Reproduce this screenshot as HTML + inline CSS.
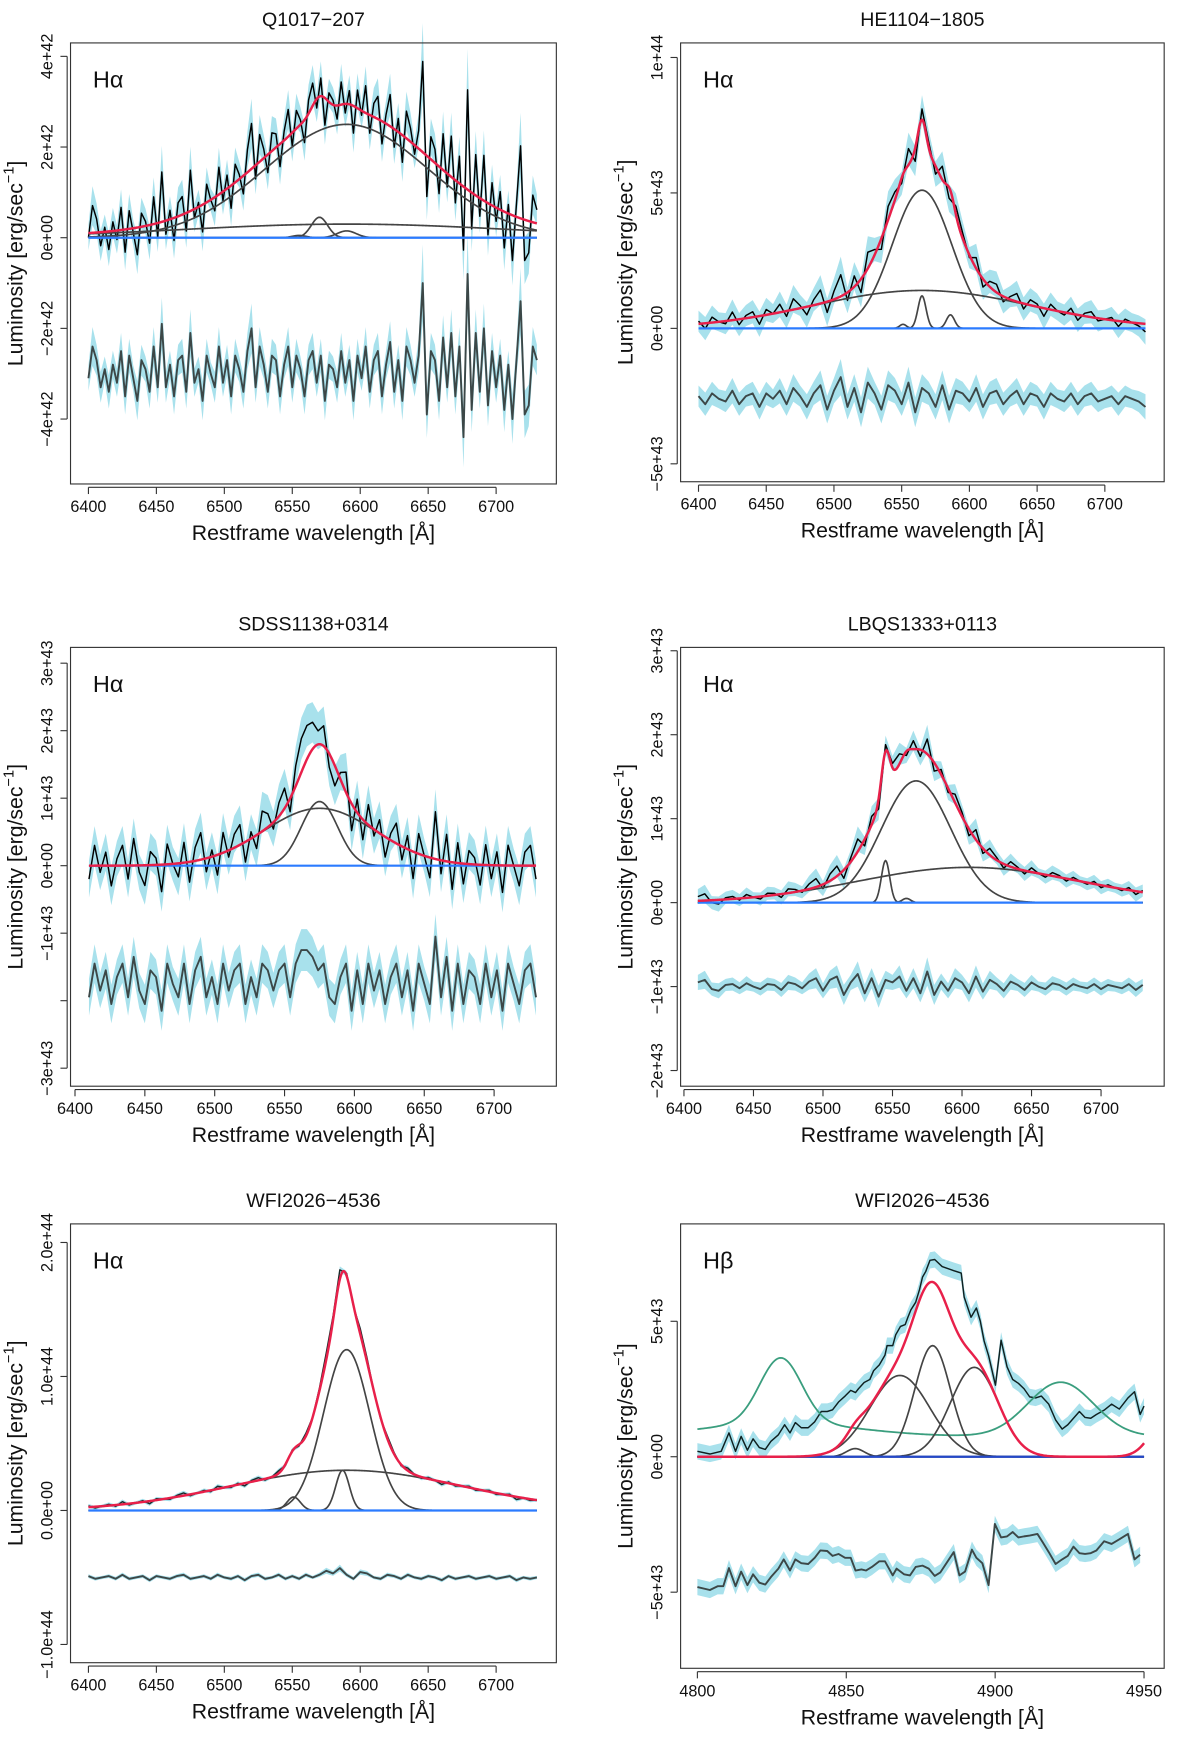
<!DOCTYPE html>
<html><head><meta charset="utf-8">
<style>
html,body{margin:0;padding:0;background:#fff;}
svg{display:block;font-family:"Liberation Sans",Arial,sans-serif;}
</style></head>
<body>
<svg id="fig" width="1200" height="1756" viewBox="0 0 1072 1568" xmlns="http://www.w3.org/2000/svg"></svg>
<script>
// ---------- Panel 1: Q1017-207 (units 1e42) ----------
const p1Resid=[-0.1,0.6,0.3,-0.3,0.1,-0.4,0.2,-0.2,0.5,-0.5,0.4,-0.1,-0.6,0.3,0.1,-0.4,0.6,-0.3,1.1,-0.3,0.2,-0.5,0.3,0.4,-0.4,0.9,-0.2,0.1,-0.6,0.4,0.0,-0.3,0.6,-0.2,0.3,-0.5,0.4,0.1,-0.4,0.5,1.0,-0.3,0.6,0.2,-0.4,0.4,0.3,-0.5,0.2,0.6,-0.3,0.4,0.1,-0.5,0.3,0.5,-0.2,0.4,-0.6,0.2,0.1,-0.3,0.5,-0.2,0.3,-0.6,0.4,-0.1,0.6,-0.4,0.3,0.5,-0.5,0.2,0.7,-0.4,0.3,-0.6,0.6,0.3,-0.2,0.4,2.0,-0.9,0.5,0.3,-0.6,0.8,-0.3,0.9,-0.5,0.6,-1.4,2.2,-0.8,0.9,-0.4,1.0,-0.7,0.5,-0.3,0.4,-0.8,0.2,-1.0,0.3,1.6,-0.9,-0.7,0.6,0.3];
const p1Amp=[2.5,0.3,0.45,0.15,0.05];
const p1Cen=[6590,6590,6570,6590,6555];
const p1Sig=[60,120,6,7,5];
const p1XTicks=[6400,6450,6500,6550,6600,6650,6700];
const p1YTicks=[4,2,0,-2,-4];
const p1YLabels=["4e+42","2e+42","0e+00","\u22122e+42","\u22124e+42"];
// ---------- Panel 2: HE1104-1805 (units 1e43) ----------
const p2Resid=[0.1,-0.2,0.2,0.0,-0.1,0.3,-0.2,0.1,0.2,-0.3,0.2,0.0,0.3,-0.2,0.4,0.1,-0.3,0.2,0.5,-0.4,0.3,0.8,-0.3,0.4,-0.5,0.6,0.2,-0.4,0.5,0.3,-0.2,0.6,-0.5,0.4,0.2,-0.3,0.5,-0.4,0.3,0.2,-0.1,0.4,-0.3,0.2,0.3,-0.2,0.1,0.3,-0.2,0.2,0.1,-0.3,0.2,0.0,-0.1,0.2,-0.2,0.1,0.2,-0.1,0.0,0.1,-0.2,0.1,0.0,-0.1,-0.3];
const p2Amp=[5.1,1.4,1.2,0.5,0.15];
const p2Cen=[6565,6565,6565,6586,6551];
const p2Sig=[22,80,3,3,2.5];
const p2XTicks=[6400,6450,6500,6550,6600,6650,6700];
const p2YTicks=[10,5,0,-5];
const p2YLabels=["1e+44","5e+43","0e+00","\u22125e+43"];
// ---------- Panel 3: SDSS1138+0314 (units 1e43) ----------
const p3Resid=[-0.2,0.3,-0.1,0.2,-0.3,0.1,0.3,-0.2,0.4,-0.1,-0.3,0.2,0.1,-0.4,0.3,0.0,-0.2,0.3,-0.3,0.2,0.4,-0.2,0.1,-0.3,0.3,-0.1,0.2,0.3,-0.3,0.1,-0.2,0.3,0.2,-0.1,0.2,0.3,-0.2,0.3,0.5,0.5,0.4,0.2,0.3,-0.2,-0.3,0.1,0.3,-0.4,0.2,-0.3,0.3,-0.1,0.2,-0.3,0.1,0.3,-0.2,0.2,-0.4,0.3,0.0,-0.3,0.7,-0.2,0.4,-0.4,0.3,-0.3,0.2,0.1,-0.3,0.3,-0.2,0.2,-0.4,0.3,0.0,-0.3,0.2,0.3,-0.2];
const p3Amp=[0.95,0.85];
const p3Cen=[6575,6575];
const p3Sig=[13,40];
const p3XTicks=[6400,6450,6500,6550,6600,6650,6700];
const p3YTicks=[3,2,1,0,-1,-2,-3];
const p3YLabels=["3e+43","2e+43","1e+43","0e+00","\u22121e+43","","\u22123e+43"];
// ---------- Panel 4: LBQS1333+0113 (units 1e43) ----------
const p4Resid=[0.05,0.08,-0.03,-0.05,0.02,0.03,-0.02,0.04,0.0,-0.03,0.03,0.02,-0.04,0.05,0.03,-0.02,0.06,0.1,-0.05,0.08,0.12,-0.1,0.05,0.15,-0.08,0.1,-0.12,0.08,0.05,0.12,-0.05,0.1,-0.08,0.18,-0.1,0.06,-0.05,0.1,0.05,-0.08,0.12,-0.06,0.08,0.03,-0.05,0.06,0.02,-0.04,0.05,0.0,-0.03,0.04,0.02,-0.03,0.03,0.0,-0.02,0.03,-0.03,0.02,0.0,-0.02,0.03,-0.04,0.02];
const p4Amp=[1.45,0.42,0.5,0.05];
const p4Cen=[6567,6605,6545,6560];
const p4Sig=[25,80,3,3];
const p4XTicks=[6400,6450,6500,6550,6600,6650,6700];
const p4YTicks=[3,2,1,0,-1,-2];
const p4YLabels=["3e+43","2e+43","1e+43","0e+00","\u22121e+43","\u22122e+43"];
// ---------- Panel 5: WFI2026-4536 Halpha (units 1e44) ----------
const p5Resid=[0.01,-0.01,0.0,0.01,-0.01,0.02,-0.01,0.0,0.01,-0.02,0.01,0.0,-0.01,0.01,0.02,-0.01,0.0,0.01,-0.01,0.02,0.0,-0.01,0.01,-0.02,0.01,0.02,-0.01,0.0,0.02,-0.01,0.01,-0.01,0.02,0.0,0.02,0.05,0.03,0.07,0.02,-0.01,0.04,0.03,0.0,-0.01,0.02,0.01,-0.01,0.02,0.0,-0.01,0.01,0.0,-0.02,0.01,-0.01,0.0,0.01,-0.01,0.0,0.01,-0.01,0.0,0.01,-0.02,0.0,-0.01,0.0];
const p5Amp=[1.2,0.3,0.3,0.1];
const p5Cen=[6590,6590,6587,6551];
const p5Sig=[17,85,5,5];
const p5XTicks=[6400,6450,6500,6550,6600,6650,6700];
const p5YTicks=[2,1,0,-1];
const p5YLabels=["2.0e+44","1.0e+44","0.0e+00","\u22121.0e+44"];
// ---------- Panel 6: WFI2026-4536 Hbeta (units 1e43) ----------
const p6Wl=[4800,4804.2,4808,4810.6,4812.8,4814.7,4816.8,4818.7,4820.8,4822.8,4824.7,4827.2,4829.3,4831.1,4832.9,4834.9,4837.2,4839.4,4841.6,4843.6,4845.4,4847.4,4849.6,4851.5,4853.1,4854.1,4856,4857.9,4859.2,4861.1,4863,4863.7,4865.6,4866.6,4868.2,4869.8,4870.7,4871.7,4873.3,4874.6,4875.6,4876.7,4878.1,4879.7,4882.2,4886.1,4888.6,4889.6,4891.9,4893.7,4895,4896.3,4897.8,4900.1,4902,4904,4905.9,4907.8,4909.7,4911.6,4913.6,4915.5,4918,4920.3,4922.5,4924.4,4926.3,4928.3,4930.2,4932.1,4934,4936.6,4939.1,4941.7,4944.6,4946.8,4948.7,4950];
const p6Obs=[0.2,0.1,0.2,0.88,0.2,0.75,0.24,0.66,0.34,0.27,0.57,0.81,1.18,0.88,1.26,1.07,1.07,1.29,1.67,1.67,1.73,2.02,2.24,2.45,2.37,2.51,2.74,2.85,3.18,3.39,3.75,4.1,4.1,4.5,4.81,4.88,5.15,5.42,5.7,6.17,6.63,6.84,7.25,7.28,7.02,6.87,6.78,5.89,5.15,5.49,5.01,4.27,3.73,2.64,4.3,3.32,2.85,2.71,2.51,2.21,2.17,2.24,1.94,1.36,1.02,1.18,1.42,1.67,1.45,1.42,1.56,1.72,1.94,1.76,2.17,2.4,1.56,1.87];
const p6ResWl=[4800,4804.2,4806.8,4808.7,4810.6,4812.8,4814.7,4816.8,4818.7,4820.8,4822.8,4824.7,4827.2,4829,4831.1,4832.9,4834.9,4837.2,4839.4,4841.3,4843.6,4845.4,4847.4,4849.6,4851.5,4853.1,4855.1,4856.6,4858.6,4861.1,4863,4865.6,4866.9,4869.4,4871.4,4873.3,4875.6,4877.7,4879.7,4881.6,4886.1,4888,4889.9,4892.2,4893.7,4895.7,4897.8,4899.9,4902,4904,4905.9,4907.8,4909.7,4911.6,4914.2,4916.1,4918,4920.3,4922.5,4924.4,4926.3,4928.3,4930.2,4932.1,4934,4936.6,4939.1,4941.7,4944.6,4946.8,4948.7];
const p6Res=[-4.81,-4.92,-4.78,-4.78,-4.11,-4.78,-4.24,-4.74,-4.34,-4.65,-4.72,-4.44,-4.13,-3.79,-4.2,-3.79,-3.93,-3.96,-3.73,-3.46,-3.48,-3.66,-3.59,-3.73,-3.73,-4.2,-4.16,-4.2,-4.07,-3.86,-3.86,-4.38,-4.13,-4.34,-4.38,-4.07,-4.02,-4.13,-4.4,-4.27,-3.52,-4.38,-4.24,-3.43,-3.73,-3.93,-4.74,-2.48,-2.98,-2.94,-2.78,-2.98,-2.94,-2.91,-2.85,-3.18,-3.52,-3.96,-3.79,-3.66,-3.32,-3.56,-3.59,-3.56,-3.46,-3.12,-3.22,-3.05,-2.85,-3.79,-3.62];
const p6Amp=[3.0,4.1,3.3,0.3,2.0];
const p6Cen=[4868,4879,4893,4853,4960];
const p6Sig=[10,6,8,3,6];
const p6FeAmp=[2.4,2.0,0.5];
const p6FeCen=[4828,4922,4828];
const p6FeSig=[7,11,25];
const p6FeBase=0.75;
const p6XTicks=[4800,4850,4900,4950];
const p6YTicks=[5,0,-5];
const p6YLabels=["5e+43","0e+00","\u22125e+43"];

const NS="http://www.w3.org/2000/svg";
const svg=document.getElementById('fig');
function mk(tag,attrs,parent){const e=document.createElementNS(NS,tag);for(const k in attrs)e.setAttribute(k,attrs[k]);(parent||svg).appendChild(e);return e;}
function gsum(l,A,C,S){let s=0;for(let i=0;i<A.length;i++)s+=A[i]*Math.exp(-Math.pow(l-C[i],2)/(2*S[i]*S[i]));return s;}
function gone(l,a,c,s){return a*Math.exp(-Math.pow(l-c,2)/(2*s*s));}
function pathD(pts){return pts.map((p,i)=>(i?'L':'M')+p[0].toFixed(2)+' '+p[1].toFixed(2)).join(' ');}

function drawPanel(cfg){
  const g=mk('g',{});
  
  
  const X=l=>cfg.x0+(l-cfg.l0)*cfg.sx;
  const Y=v=>cfg.y0-v*cfg.sy;
  const t=mk('text',{x:(cfg.bx0+cfg.bx1)/2,y:cfg.by0-15,'text-anchor':'middle','font-size':17.5,fill:'#111'},g);
  t.textContent=cfg.title;
  
  
  const h=mk('text',{x:cfg.bx0+20,y:cfg.by0+40,'font-size':21,fill:'#111'},g);
  h.textContent=cfg.line;
  
  
  const wl=cfg.wl, obs=cfg.obs;
  let up=[],dn=[];
  for(let i=0;i<wl.length;i++){up.push([X(wl[i]),Y(obs[i]+cfg.err(i))]);dn.push([X(wl[i]),Y(obs[i]-cfg.err(i))]);}
  const band=mk('path',{d:pathD(up.concat(dn.reverse()))+'Z',fill:'#a8e1ec',stroke:'none'},g);
  
  
  let ru=[],rd=[];
  for(let i=0;i<cfg.rwl.length;i++){ru.push([X(cfg.rwl[i]),Y(cfg.res[i]+cfg.rerr(i))]);rd.push([X(cfg.rwl[i]),Y(cfg.res[i]-cfg.rerr(i))]);}
  const rb=mk('path',{d:pathD(ru.concat(rd.reverse()))+'Z',fill:'#a8e1ec',stroke:'none'},g);
  
  
  const ol=mk('path',{d:pathD(wl.map((l,i)=>[X(l),Y(obs[i])])),fill:'none',stroke:cfg.obsColor||'#000','stroke-width':1.3,'stroke-linejoin':'round'},g);
  
  
  const fine=[];for(let l=cfg.lmin;l<=cfg.lmax+0.01;l+=0.5)fine.push(l);
  if(cfg.fe){
    const fe=mk('path',{d:pathD(fine.map(l=>[X(l),Y(cfg.fe(l))])),fill:'none',stroke:'#3a9e7e','stroke-width':1.6},g);
    
    
  }
  for(let k=0;k<cfg.A.length;k++){
    const c=mk('path',{d:pathD(fine.map(l=>[X(l),Y(gone(l,cfg.A[k],cfg.C[k],cfg.S[k]))])),fill:'none',stroke:'#444','stroke-width':1.5},g);
    
    
  }
  const bl=mk('line',{x1:X(cfg.lmin),x2:X(cfg.lmax),y1:Y(0),y2:Y(0),stroke:cfg.blue||'#2b7bff','stroke-width':2},g);
  
  
  const rm=mk('path',{d:pathD(fine.map(l=>[X(l),Y(gsum(l,cfg.A,cfg.C,cfg.S))])),fill:'none',stroke:'#e8204a','stroke-width':2.2},g);
  
  
  const rl=mk('path',{d:pathD(cfg.rwl.map((l,i)=>[X(l),Y(cfg.res[i])])),fill:'none',stroke:'#3c4747','stroke-width':1.7,'stroke-linejoin':'round'},g);
  
  
  const bx=mk('rect',{x:cfg.bx0,y:cfg.by0,width:cfg.bx1-cfg.bx0,height:cfg.by1-cfg.by0,fill:'none',stroke:'#333','stroke-width':1},g);
  
  
  const xa=mk('g',{},g);
  
  
  const xt=cfg.xticks;
  mk('line',{x1:X(xt[0]),x2:X(xt[xt.length-1]),y1:cfg.by1+3,y2:cfg.by1+3,stroke:'#333'},xa);
  xt.forEach(v=>{
    mk('line',{x1:X(v),x2:X(v),y1:cfg.by1+3,y2:cfg.by1+9,stroke:'#333'},xa);
    const tl=mk('text',{x:X(v),y:cfg.by1+25,'text-anchor':'middle','font-size':14.5,fill:'#111'},xa);
    tl.textContent=v;
    
    
  });
  const xl=mk('text',{x:(cfg.bx0+cfg.bx1)/2,y:cfg.by1+50,'text-anchor':'middle','font-size':19,fill:'#111'},g);
  xl.textContent='Restframe wavelength [Å]';
  
  
  const ya=mk('g',{},g);
  
  
  const yt=cfg.yticks;
  mk('line',{x1:cfg.bx0-3,x2:cfg.bx0-3,y1:Y(yt[0]),y2:Y(yt[yt.length-1]),stroke:'#333'},ya);
  yt.forEach((v,i)=>{
    mk('line',{x1:cfg.bx0-3,x2:cfg.bx0-9,y1:Y(v),y2:Y(v),stroke:'#333'},ya);
    const tx=cfg.bx0-16, ty=Y(v);
    const tl=mk('text',{x:tx,y:ty,'text-anchor':'middle','font-size':14.5,fill:'#111',transform:`rotate(-90 ${tx} ${ty})`},ya);
    tl.textContent=cfg.ylabels[i];
    
    
  });
  const lx=cfg.bx0-43, ly=(cfg.by0+cfg.by1)/2;
  const yl=mk('text',{x:lx,y:ly,'text-anchor':'middle','font-size':19,fill:'#111',transform:`rotate(-90 ${lx} ${ly})`},g);
  
  
  yl.appendChild(document.createTextNode('Luminosity [erg/sec'));
  const sup=mk('tspan',{'font-size':13,dy:-8},yl);sup.textContent='\u22121';
  const cl=mk('tspan',{dy:8},yl);cl.textContent=']';
}

function stdPanel(o){
  const wl=o.resid.map((_,i)=>o.lstart+o.step*i);
  const model=wl.map(l=>gsum(l,o.A,o.C,o.S));
  const obs=wl.map((l,i)=>model[i]+o.resid[i]);
  const res=o.resid.map(r=>o.roff+r);
  return Object.assign({},o,{wl,obs,rwl:wl,res,lmin:o.lstart,lmax:wl[wl.length-1],
    err:i=>o.e0+o.e1*Math.abs(o.resid[i]),rerr:i=>o.e0+o.e1*Math.abs(o.resid[i])});
}

drawPanel(stdPanel({name:'panel-q1017',title:'Q1017\u2212207',line:'H\u03b1',resid:p1Resid,lstart:6400,step:3,A:p1Amp,C:p1Cen,S:p1Sig,roff:-3.0,e0:0.25,e1:0.3,
  x0:79,l0:6400,sx:60.7/50,y0:212,sy:40.5,bx0:63,bx1:497,by0:38,by1:432,xticks:p1XTicks,yticks:p1YTicks,ylabels:p1YLabels}));
drawPanel(stdPanel({name:'panel-he1104',title:'HE1104\u22121805',line:'H\u03b1',resid:p2Resid,lstart:6400,step:5,A:p2Amp,C:p2Cen,S:p2Sig,roff:-2.6,e0:0.35,e1:0.4,
  x0:624,l0:6400,sx:60.5/50,y0:293,sy:24.2,bx0:608,bx1:1040,by0:38,by1:430,xticks:p2XTicks,yticks:p2YTicks,ylabels:p2YLabels}));
drawPanel(stdPanel({name:'panel-sdss1138',title:'SDSS1138+0314',line:'H\u03b1',resid:p3Resid,lstart:6410,step:4,A:p3Amp,C:p3Cen,S:p3Sig,roff:-1.75,e0:0.25,e1:0.12,
  x0:67,l0:6400,sx:62.4/50,y0:773,sy:60.3,bx0:63,bx1:497,by0:578,by1:970,xticks:p3XTicks,yticks:p3YTicks,ylabels:p3YLabels}));
drawPanel(stdPanel({name:'panel-lbqs1333',title:'LBQS1333+0113',line:'H\u03b1',resid:p4Resid,lstart:6410,step:5,A:p4Amp,C:p4Cen,S:p4Sig,roff:-1.0,e0:0.06,e1:0.6,
  x0:611,l0:6400,sx:62.1/50,y0:806,sy:75,bx0:608,bx1:1040,by0:578,by1:970,xticks:p4XTicks,yticks:p4YTicks,ylabels:p4YLabels}));
drawPanel(stdPanel({name:'panel-wfi2026-halpha',title:'WFI2026\u22124536',line:'H\u03b1',resid:p5Resid,lstart:6400,step:5,A:p5Amp,C:p5Cen,S:p5Sig,roff:-0.5,e0:0.012,e1:0.2,
  x0:79,l0:6400,sx:60.7/50,y0:1349,sy:119.7,bx0:63,bx1:497,by0:1093,by1:1485,xticks:p5XTicks,yticks:p5YTicks,ylabels:p5YLabels,obsColor:'#1c2a2a'}));
drawPanel({name:'panel-wfi2026-hbeta',title:'WFI2026\u22124536',line:'H\u03b2',wl:p6Wl,obs:p6Obs,rwl:p6ResWl,res:p6Res,
  A:p6Amp,C:p6Cen,S:p6Sig,lmin:4800,lmax:4950,err:i=>0.3,rerr:i=>0.3,
  fe:l=>p6FeBase+gsum(l,p6FeAmp,p6FeCen,p6FeSig),blue:'#2448c8',obsColor:'#0f2020',
  x0:623,l0:4800,sx:133/50,y0:1301,sy:24.2,bx0:608,bx1:1040,by0:1093,by1:1490,xticks:p6XTicks,yticks:p6YTicks,ylabels:p6YLabels});
</script>
</body></html>
